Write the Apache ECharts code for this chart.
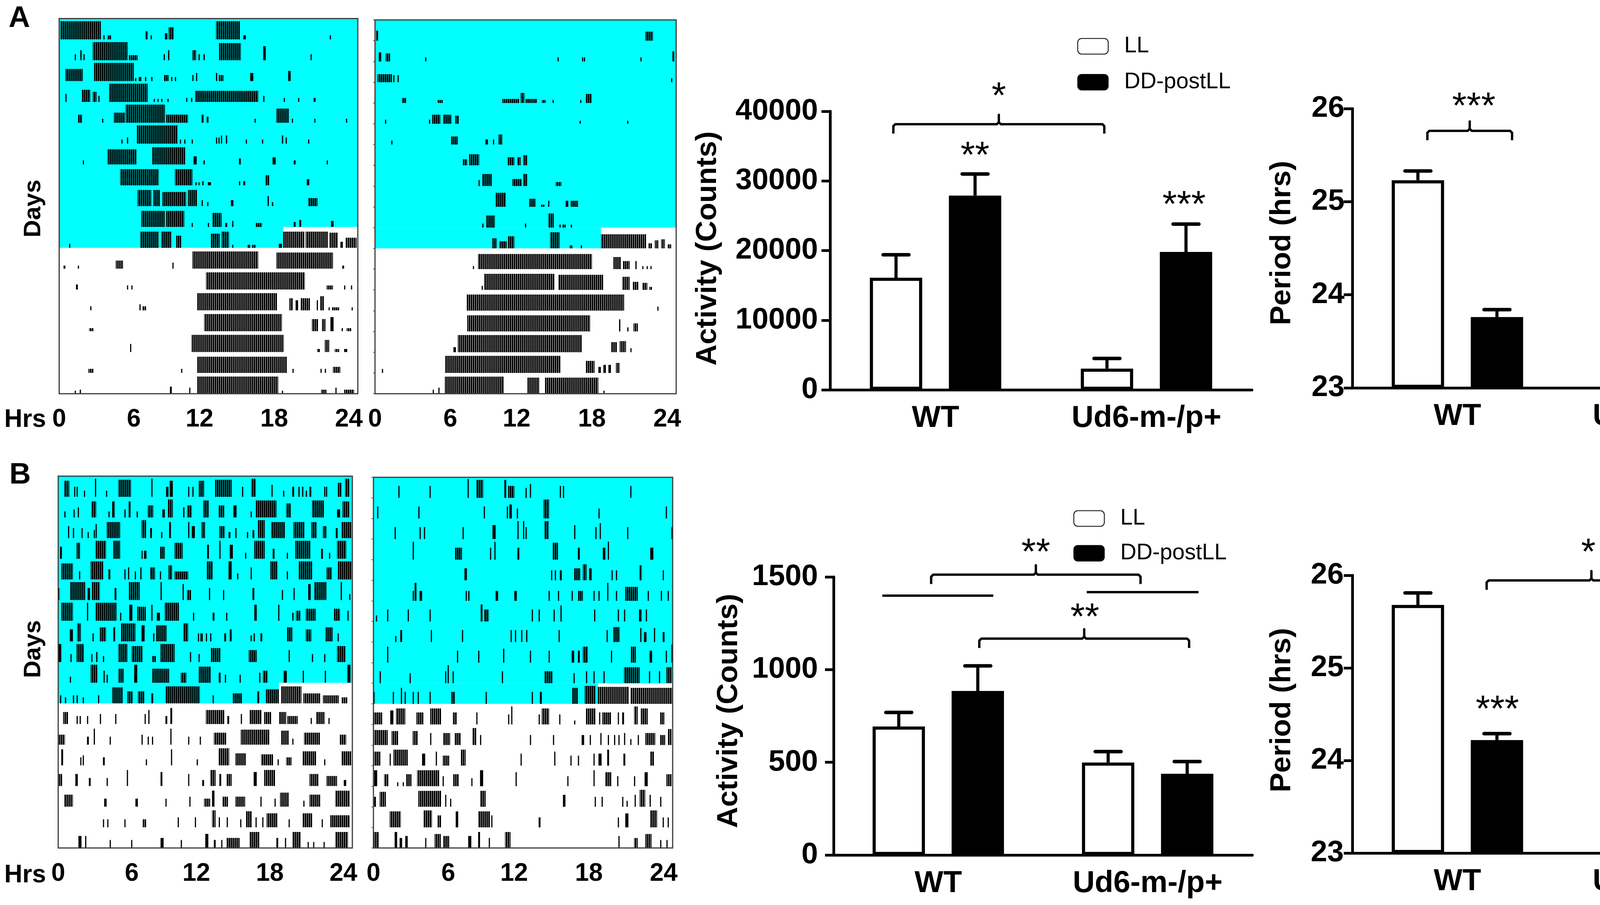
<!DOCTYPE html>
<html><head><meta charset="utf-8">
<script src="https://cdn.jsdelivr.net/npm/echarts@6/dist/echarts.min.js"></script>
<style>html,body{margin:0;padding:0;background:#fff}#c{width:4550px;height:2317px}</style>
</head><body><div id="c"></div>
<script>
// ---------------- DATA ----------------
const groups = ['WT', 'Ud6-m-/p+'];
const conds = ['LL', 'DD-postLL'];
const hourLabels = [0, 6, 12, 18, 24];
// light (LL) part of each actogram: [rowStart, rowEnd, hourStart, hourEnd]
const lightBlocks = [[0, 10, 0, 24], [10, 11, 0, 18]];

// Panel A bars
const actA_LL = [16100, 3050];   const actA_LL_err = [19400, 4500];
const actA_DD = [27900, 19800];  const actA_DD_err = [31000, 23800];
const perA_LL = [25.23, 24.78];  const perA_LL_err = [25.33, 25.22];
const perA_DD = [23.76, 23.92];  const perA_DD_err = [23.84, 24.00];
// Panel B bars
const actB_LL = [693, 499];      const actB_LL_err = [769, 558];
const actB_DD = [885, 438];      const actB_DD_err = [1020, 504];
const perB_LL = [25.68, 25.79];  const perB_LL_err = [25.81, 25.89];
const perB_DD = [24.22, 24.645]; const perB_DD_err = [24.29, 24.72];

// significance annotations (x in group units: WT=0, Ud6=1)
const bracketsActA = [[-0.2, 0.8, 38150]];
const starsActA = [[0.3, 43086, '*'], [0.187, 34558, '**'], [1.178, 27490, '***']];
const bracketsPerA = [[-0.143, 0.26, 25.761], [0.846, 1.249, 25.652]];
const starsPerA = [[0.078, 26.092, '***'], [1.035, 25.954, '**']];
const bracketsActB = [[-0.034, 0.966, 1512], [0.196, 1.198, 1167]];
const linesActB = [[-0.267, 0.263, 1399], [0.709, 1.243, 1418]];
const starsActB = [[0.466, 1666, '**'], [0.70, 1317, '**']];
const bracketsPerB = [[0.139, 1.136, 25.945]];
const starsPerB = [[0.623, 26.316, '*'], [0.19, 24.62, '***'], [1.19, 25.05, '***']];

// actogram activity bouts per day: [startHour, endHour, relativeHeight]
const actoA_WT = [
 [[0.1,3.35,0.9],[3.55,3.65,0.2],[3.9,4.2,0.2],[6.95,7.1,0.4],[7.35,7.4,0.2],[8.5,8.7,0.3],[8.8,9.2,0.6],[12.6,14.55,0.9],[14.8,15.0,0.2],[21.75,21.8,0.2]],
 [[1.25,1.3,0.3],[1.7,1.8,0.5],[1.95,2.0,0.3],[2.7,5.5,0.9],[5.6,6.3,0.25],[8.4,8.5,0.3],[8.75,8.85,0.5],[10.7,11.0,0.5],[11.2,11.3,0.3],[11.6,11.7,0.3],[12.85,14.6,0.85],[16.4,16.6,0.7],[20.2,20.25,0.3]],
 [[0.5,1.9,0.6],[2.8,6.0,0.9],[6.1,6.2,0.15],[6.4,6.6,0.2],[6.9,7.0,0.2],[7.4,7.5,0.2],[8.4,8.8,0.3],[9.0,9.05,0.2],[9.3,9.35,0.2],[10.7,10.75,0.3],[11.0,11.05,0.4],[12.6,12.7,0.4],[12.8,13.2,0.3],[15.35,15.6,0.4],[18.4,18.6,0.5]],
 [[0.5,0.55,0.4],[1.8,2.5,0.6],[2.7,3.0,0.5],[3.15,3.2,0.3],[4.0,7.1,0.9],[7.6,7.65,0.15],[7.9,7.95,0.15],[8.2,8.3,0.15],[8.7,8.8,0.15],[10.2,10.25,0.2],[10.6,10.7,0.2],[10.95,16.0,0.55],[16.4,16.45,0.3],[18.05,18.1,0.2],[19.2,19.25,0.2],[20.45,20.6,0.2]],
 [[1.5,1.85,0.4],[3.45,3.5,0.2],[4.4,5.3,0.5],[5.35,8.5,0.9],[8.6,10.35,0.4],[11.45,11.6,0.4],[11.85,12.0,0.3],[15.7,15.75,0.2],[17.45,18.45,0.7],[18.7,18.75,0.2],[20.5,20.55,0.2],[23.05,23.1,0.2]],
 [[5.0,5.05,0.2],[5.45,5.5,0.3],[6.25,9.5,0.9],[9.7,9.75,0.2],[10.05,10.1,0.2],[10.65,10.7,0.2],[12.6,12.7,0.3],[12.8,12.85,0.3],[13.0,13.05,0.4],[13.4,13.5,0.4],[15.0,15.05,0.2],[16.3,16.35,0.2],[17.9,18.0,0.4],[18.2,18.3,0.3],[20.0,20.1,0.2]],
 [[1.9,1.95,0.2],[3.9,6.2,0.75],[7.45,10.15,0.85],[10.8,11.05,0.4],[11.6,11.7,0.2],[14.45,14.6,0.3],[17.15,17.4,0.35],[18.85,19.0,0.2],[21.5,21.55,0.2]],
 [[4.9,8.0,0.8],[9.3,10.7,0.8],[10.95,11.05,0.15],[11.2,11.25,0.15],[11.5,11.6,0.2],[11.95,12.2,0.15],[14.45,14.5,0.2],[14.8,14.95,0.2],[16.6,16.9,0.5],[19.9,20.1,0.3]],
 [[6.3,7.4,0.8],[7.55,8.1,0.8],[8.3,10.2,0.7],[10.35,11.1,0.8],[11.45,11.5,0.3],[11.9,11.95,0.2],[13.8,14.0,0.3],[16.75,16.85,0.5],[17.1,17.2,0.2],[20.0,20.75,0.4]],
 [[6.6,8.5,0.8],[8.6,10.05,0.8],[10.65,10.7,0.2],[11.95,12.0,0.2],[12.3,13.05,0.7],[13.35,13.5,0.2],[13.9,14.0,0.3],[15.8,16.3,0.2],[18.85,19.0,0.25],[19.3,19.45,0.35],[21.85,22.05,0.3]],
 [[0.8,0.85,0.2],[6.5,8.0,0.8],[8.2,9.0,0.8],[9.4,9.8,0.6],[12.2,12.9,0.7],[13.05,13.65,0.8],[13.9,13.95,0.15],[15.15,15.35,0.15],[15.5,15.8,0.15],[17.65,17.9,0.2],[18.0,19.7,0.8],[19.8,21.6,0.8],[21.7,22.4,0.75],[22.6,22.8,0.3],[23.0,23.9,0.5]],
 [[0.35,0.5,0.15],[1.5,1.55,0.15],[4.55,5.15,0.4],[9.1,9.15,0.3],[10.7,16.0,0.85],[17.45,22.0,0.8],[22.75,22.9,0.15]],
 [[1.35,1.5,0.25],[5.45,5.5,0.2],[5.8,5.85,0.2],[11.8,19.75,0.85],[21.5,22.0,0.2],[22.9,22.95,0.2],[23.45,23.5,0.2]],
 [[2.5,2.55,0.2],[6.45,6.5,0.3],[6.7,7.0,0.2],[11.1,17.5,0.85],[18.5,18.8,0.6],[19.0,19.2,0.5],[19.4,20.15,0.6],[20.7,20.75,0.5],[20.95,21.3,0.7],[21.65,21.7,0.15],[21.9,22.5,0.15],[23.5,23.55,0.15]],
 [[2.4,2.75,0.15],[11.65,17.9,0.85],[20.3,20.8,0.6],[21.1,21.4,0.6],[21.8,22.05,0.7],[22.7,22.8,0.15],[23.1,23.5,0.15]],
 [[5.7,5.75,0.4],[10.65,18.05,0.85],[20.75,20.95,0.15],[21.35,21.7,0.6],[22.15,22.5,0.15],[22.9,23.15,0.15]],
 [[2.35,2.75,0.2],[9.8,9.85,0.2],[11.1,18.3,0.8],[18.75,18.8,0.2],[21.0,21.05,0.2],[21.35,21.4,0.2],[22.0,22.6,0.3]],
 [[1.25,1.3,0.15],[1.65,1.75,0.2],[8.9,9.05,0.35],[10.45,10.5,0.3],[11.1,17.6,0.85],[17.9,17.95,0.15],[21.05,21.5,0.2],[22.2,22.25,0.3],[22.9,23.7,0.2]]
];
const actoA_Ud6 = [
 [[0.1,0.25,0.5],[21.55,22.15,0.45]],
 [[0.3,0.5,0.45],[0.85,1.2,0.4],[4.0,4.05,0.2],[14.55,14.6,0.2],[16.5,16.55,0.2],[16.65,16.7,0.2],[21.15,21.2,0.2],[23.7,23.85,0.5]],
 [[0.2,1.35,0.4],[1.45,1.55,0.35],[1.8,1.85,0.35],[23.6,23.65,0.2]],
 [[2.15,2.5,0.25],[5.0,5.4,0.15],[10.15,11.5,0.2],[11.6,11.9,0.5],[12.0,12.9,0.2],[13.3,13.6,0.15],[14.15,14.2,0.15],[16.35,16.4,0.15],[16.8,17.25,0.45]],
 [[0.8,0.85,0.2],[4.3,4.4,0.2],[4.55,5.2,0.45],[5.45,6.1,0.45],[6.4,6.7,0.4],[16.3,16.4,0.15],[20.1,20.15,0.15]],
 [[1.3,1.35,0.2],[6.05,6.6,0.4],[8.8,9.0,0.25],[9.4,9.45,0.25],[9.85,10.15,0.5]],
 [[7.0,7.35,0.3],[7.5,8.3,0.55],[10.55,11.1,0.4],[11.35,11.6,0.4],[11.8,12.15,0.5]],
 [[8.25,8.3,0.3],[8.55,9.3,0.6],[10.95,11.7,0.35],[11.8,12.15,0.6],[14.4,14.85,0.2]],
 [[9.6,10.4,0.7],[12.3,12.8,0.4],[13.2,13.5,0.1],[13.8,13.85,0.3],[15.2,15.4,0.3],[15.6,16.2,0.3]],
 [[8.55,8.6,0.2],[8.85,9.55,0.6],[11.95,12.0,0.2],[13.8,14.25,0.7],[14.7,14.8,0.15],[14.95,15.2,0.15],[15.6,15.7,0.15]],
 [[9.35,9.7,0.5],[9.9,10.5,0.35],[10.6,11.1,0.6],[13.95,14.7,0.8],[15.5,15.75,0.15],[16.4,16.45,0.15],[18.0,21.6,0.7],[21.8,22.1,0.25],[22.3,22.6,0.4],[22.8,23.1,0.45],[23.3,23.6,0.2]],
 [[7.8,7.85,0.15],[8.2,17.3,0.75],[19.0,19.6,0.6],[19.75,20.3,0.4],[20.75,20.85,0.4],[21.3,21.35,0.15],[21.65,21.7,0.15],[21.95,22.0,0.15]],
 [[8.5,8.55,0.2],[8.7,14.3,0.8],[14.6,18.2,0.75],[19.7,20.3,0.65],[20.55,21.0,0.4],[21.3,21.7,0.35],[21.85,22.1,0.15]],
 [[7.3,19.85,0.8],[22.5,22.55,0.2]],
 [[7.35,17.15,0.8],[19.45,19.55,0.6],[20.1,20.2,0.2],[20.6,20.95,0.4]],
 [[6.25,6.45,0.25],[6.6,16.5,0.85],[18.8,19.3,0.5],[19.5,20.0,0.55],[20.35,20.4,0.2]],
 [[0.55,0.6,0.2],[5.6,14.8,0.85],[16.8,17.5,0.6],[17.8,18.0,0.3],[18.2,18.4,0.4],[18.6,18.8,0.4],[19.2,19.5,0.5]],
 [[4.6,4.65,0.2],[5.05,5.1,0.3],[5.55,10.25,0.85],[12.15,13.1,0.8],[13.55,17.8,0.8],[18.2,18.25,0.15]]
];
const actoB_WT = [
 [[0.5,0.9,0.8],[1.3,1.35,0.5],[1.5,1.55,0.5],[2.1,2.15,0.3],[3.0,3.05,0.9],[3.9,3.95,0.3],[4.9,5.95,0.85],[7.6,7.65,0.9],[8.8,9.0,0.5],[9.1,9.35,0.8],[10.6,10.65,0.5],[10.95,11.0,0.5],[11.45,11.9,0.8],[12.8,14.15,0.85],[15.0,15.05,0.5],[15.75,16.1,0.9],[17.4,17.45,0.6],[18.35,18.4,0.3],[19.1,19.25,0.5],[19.6,19.7,0.5],[19.9,20.0,0.5],[20.2,20.3,0.3],[20.5,20.65,0.5],[21.7,21.75,0.5],[21.85,21.9,0.5],[22.8,23.1,0.7],[23.4,23.75,0.9]],
 [[0.5,0.55,0.3],[1.25,1.3,0.4],[1.6,1.65,0.5],[2.7,3.1,0.8],[4.1,4.15,0.3],[4.4,4.6,0.8],[5.4,5.5,0.4],[5.75,5.9,0.8],[6.4,6.45,0.3],[7.3,7.75,0.6],[8.5,8.7,0.4],[8.95,9.35,0.9],[10.2,10.3,0.5],[10.55,10.9,0.6],[11.85,12.3,0.85],[13.1,13.55,0.6],[14.3,14.55,0.6],[15.7,15.75,0.3],[16.1,17.8,0.85],[18.6,19.0,0.7],[20.7,21.7,0.85],[22.75,23.0,0.4],[23.2,23.75,0.8]],
 [[0.8,0.85,0.6],[1.2,1.25,0.5],[1.9,1.95,0.5],[2.4,2.45,0.3],[2.9,2.95,0.4],[3.05,3.1,0.7],[3.95,5.05,0.8],[6.8,7.2,0.9],[7.5,7.65,0.5],[8.4,8.45,0.3],[9.05,9.2,0.8],[10.6,10.7,0.8],[10.9,11.15,0.6],[11.7,12.0,0.8],[13.15,13.6,0.6],[13.9,14.05,0.3],[14.45,14.55,0.5],[15.4,15.5,0.3],[15.85,16.0,0.4],[16.3,16.85,0.9],[17.4,18.5,0.8],[19.2,20.1,0.8],[20.65,21.1,0.8],[21.6,21.9,0.6],[22.65,22.8,0.5],[23.1,23.9,0.8]],
 [[0.15,0.3,0.6],[1.5,1.8,0.8],[3.05,3.9,0.9],[4.5,5.05,0.9],[6.8,6.85,0.4],[7.0,7.2,0.4],[8.3,8.7,0.6],[9.5,10.15,0.8],[12.15,12.3,0.7],[13.15,13.2,0.9],[14.0,14.25,0.7],[15.25,15.3,0.3],[16.0,16.85,0.9],[17.5,17.65,0.5],[18.65,18.7,0.3],[19.35,20.6,0.9],[21.45,21.6,0.5],[22.1,22.15,0.3],[22.75,23.5,0.9]],
 [[0.25,1.2,0.8],[1.7,1.75,0.4],[2.65,3.7,0.9],[4.1,4.25,0.5],[5.4,5.45,0.5],[5.7,5.75,0.6],[6.25,6.3,0.4],[6.7,6.75,0.6],[7.5,7.9,0.6],[8.3,8.35,0.4],[9.0,9.3,0.7],[9.5,10.6,0.4],[12.1,12.6,0.9],[13.9,14.15,0.9],[14.6,14.65,0.3],[15.7,15.75,0.6],[17.3,17.9,0.9],[18.65,18.7,0.4],[19.6,20.75,0.9],[21.9,22.3,0.6],[22.8,23.95,0.9]],
 [[0.0,0.08,0.6],[0.95,2.2,0.9],[2.4,2.6,0.6],[2.75,3.4,0.9],[4.6,4.75,0.6],[5.75,6.65,0.9],[8.35,8.4,0.9],[10.15,10.25,0.8],[10.5,10.85,0.5],[12.3,12.4,0.6],[13.45,13.5,0.5],[15.85,16.0,0.6],[18.25,18.3,0.5],[19.2,19.25,0.6],[20.4,20.6,0.8],[20.9,21.9,0.9],[23.05,23.15,0.9],[23.75,23.8,0.3]],
 [[0.25,1.2,0.9],[2.35,2.4,0.9],[3.05,4.75,0.9],[5.05,5.1,0.4],[5.8,6.05,0.8],[6.45,7.15,0.7],[7.6,7.65,0.8],[8.05,8.3,0.4],[8.7,9.85,0.9],[11.0,11.05,0.4],[12.6,12.75,0.4],[13.7,13.75,0.4],[16.0,16.2,0.8],[17.95,18.0,0.8],[19.1,19.2,0.4],[19.4,19.75,0.5],[20.2,21.0,0.6],[22.5,23.0,0.6],[23.6,23.65,0.5]],
 [[0.95,1.2,0.6],[1.55,1.85,0.9],[2.8,2.85,0.4],[3.4,3.9,0.7],[4.5,4.65,0.7],[5.1,6.3,0.9],[6.8,7.05,0.8],[7.75,7.8,0.4],[8.0,8.85,0.8],[10.2,10.6,0.9],[11.4,11.5,0.4],[11.6,11.8,0.4],[12.05,12.1,0.4],[12.4,12.45,0.4],[13.55,13.7,0.4],[14.0,14.15,0.6],[15.7,15.75,0.3],[15.95,16.05,0.4],[16.5,16.65,0.4],[18.65,19.1,0.7],[20.2,20.65,0.6],[21.8,22.4,0.7],[22.8,22.85,0.4]],
 [[0.0,0.25,0.9],[1.0,1.05,0.4],[1.5,2.1,0.9],[2.7,2.75,0.4],[3.1,3.2,0.5],[3.65,3.7,0.3],[4.9,5.65,0.9],[6.0,6.9,0.8],[7.65,8.0,0.3],[8.35,9.5,0.9],[10.75,10.8,0.5],[11.45,11.5,0.4],[12.45,13.25,0.7],[15.55,16.2,0.6],[18.8,18.85,0.6],[20.7,20.75,0.4],[21.7,21.75,0.4],[22.75,23.45,0.8]],
 [[0.95,1.0,0.3],[2.65,3.2,0.9],[3.7,3.75,0.6],[3.95,4.0,0.4],[4.9,5.35,0.7],[6.2,6.45,0.9],[7.65,9.05,0.7],[10.0,10.45,0.5],[11.45,12.45,0.8],[13.1,13.25,0.5],[13.6,13.65,0.4],[14.8,14.85,0.4],[16.4,16.45,0.5],[16.7,17.1,0.6],[18.4,18.65,0.6],[19.95,20.0,0.6],[21.75,21.8,0.6],[23.6,23.85,0.9]],
 [[0.15,0.2,0.4],[0.55,0.6,0.3],[1.2,1.25,0.4],[1.5,1.55,0.4],[2.0,2.05,0.3],[3.25,3.3,0.4],[4.4,5.25,0.8],[5.65,6.1,0.6],[6.5,7.05,0.6],[7.6,7.75,0.5],[8.75,11.55,0.85],[12.6,12.65,0.4],[14.25,15.0,0.5],[16.25,16.4,0.6],[16.95,18.0,0.7],[18.2,19.85,0.85],[20.0,21.4,0.5],[21.6,22.9,0.4],[23.1,23.6,0.3]],
 [[0.4,0.8,0.6],[1.5,1.55,0.4],[1.75,1.8,0.4],[2.35,2.4,0.4],[3.4,3.45,0.5],[4.65,4.7,0.5],[7.05,7.1,0.5],[7.35,7.45,0.7],[8.75,8.9,0.4],[9.15,9.3,0.8],[12.05,13.55,0.7],[13.8,13.95,0.4],[14.9,14.95,0.5],[15.6,16.6,0.7],[16.8,17.4,0.6],[18.0,18.6,0.6],[18.7,19.55,0.4],[20.6,20.65,0.3],[21.05,21.75,0.6],[22.05,22.1,0.3]],
 [[0.05,0.55,0.5],[2.35,2.5,0.4],[2.9,2.95,0.8],[4.2,4.25,0.4],[6.8,6.85,0.5],[7.3,7.35,0.4],[7.65,7.7,0.4],[9.15,9.2,0.8],[10.6,10.65,0.4],[11.55,11.6,0.4],[12.7,13.7,0.6],[14.9,17.25,0.75],[18.2,18.8,0.7],[19.1,19.15,0.3],[20.05,21.35,0.6],[22.95,23.5,0.5]],
 [[0.25,0.4,0.8],[1.8,1.85,0.4],[2.0,2.05,0.5],[3.65,3.8,0.4],[7.15,7.2,0.3],[9.2,9.25,0.8],[11.3,11.4,0.3],[13.1,13.95,0.85],[14.45,15.3,0.6],[16.55,17.55,0.55],[17.9,17.95,0.3],[18.6,19.05,0.4],[19.95,21.05,0.7],[21.7,21.75,0.3],[23.1,23.9,0.7]],
 [[0.05,0.35,0.6],[1.4,1.6,0.6],[2.5,2.65,0.4],[3.95,4.0,0.4],[5.6,5.65,0.8],[8.35,8.5,0.7],[10.6,10.65,0.6],[11.75,11.9,0.3],[12.4,12.85,0.8],[13.15,13.3,0.6],[13.75,14.15,0.6],[15.95,16.2,0.7],[16.8,17.7,0.8],[20.5,21.25,0.6],[21.9,22.75,0.5],[23.3,23.5,0.3]],
 [[0.5,1.2,0.6],[3.75,3.95,0.4],[6.3,6.5,0.4],[8.75,8.8,0.4],[10.7,10.75,0.5],[11.9,12.4,0.4],[12.55,12.75,0.8],[13.4,13.85,0.5],[14.45,15.25,0.5],[16.5,16.55,0.5],[17.65,17.7,0.4],[18.1,18.8,0.7],[20.0,20.05,0.3],[20.5,21.4,0.6],[22.6,23.8,0.8]],
 [[3.65,3.7,0.4],[4.0,4.05,0.4],[5.4,5.45,0.4],[6.9,7.2,0.4],[9.75,9.8,0.5],[11.15,11.2,0.5],[12.55,12.85,0.85],[13.1,13.15,0.5],[13.75,13.8,0.5],[14.85,14.9,0.4],[15.3,15.8,0.8],[16.1,16.15,0.5],[16.65,16.7,0.5],[17.0,17.9,0.7],[18.8,18.85,0.4],[19.95,20.75,0.7],[21.5,21.55,0.4],[22.2,23.8,0.6]],
 [[1.65,1.9,0.6],[2.2,2.25,0.6],[4.2,4.25,0.4],[5.95,6.0,0.4],[8.35,8.6,0.5],[10.0,10.05,0.4],[12.0,12.25,0.7],[12.7,12.85,0.4],[13.3,13.35,0.4],[13.75,14.8,0.5],[15.6,16.4,0.8],[17.8,17.95,0.5],[18.5,18.55,0.5],[19.1,19.8,0.8],[20.35,20.4,0.3],[20.8,20.85,0.3],[21.65,21.7,0.3],[22.6,23.65,0.8]]
];
const actoB_Ud6 = [
 [[2.0,2.05,0.6],[4.5,4.55,0.6],[7.55,7.6,0.95],[8.25,8.8,0.9],[10.5,10.65,0.9],[10.8,11.3,0.6],[12.2,12.25,0.5],[12.55,12.6,0.7],[14.95,15.0,0.6],[15.2,15.25,0.6],[20.6,20.65,0.6]],
 [[0.3,0.35,0.6],[3.6,3.65,0.6],[8.85,8.9,0.6],[10.7,10.75,0.6],[10.9,11.1,0.7],[11.5,11.55,0.5],[13.65,14.1,0.95],[18.05,18.1,0.5],[23.45,23.5,0.6]],
 [[1.7,1.75,0.6],[3.7,3.75,0.6],[4.05,4.1,0.6],[7.15,7.2,0.6],[9.55,9.8,0.7],[11.55,11.6,0.9],[12.0,12.05,0.9],[12.2,12.25,0.6],[13.7,14.05,0.9],[16.1,16.15,0.7],[17.8,17.85,0.6],[18.15,18.2,0.8],[20.35,20.4,0.6],[23.9,23.95,0.6]],
 [[3.15,3.2,0.9],[6.55,7.1,0.6],[9.35,9.4,0.6],[9.7,9.75,0.9],[11.55,11.7,0.6],[14.35,14.8,0.85],[16.4,16.55,0.6],[18.4,18.6,0.6],[18.8,18.85,0.9],[22.2,22.45,0.6]],
 [[7.3,7.5,0.6],[14.25,14.3,0.5],[14.55,14.6,0.5],[14.95,15.1,0.5],[16.1,16.6,0.6],[16.8,17.1,0.8],[17.3,17.5,0.6],[19.1,19.15,0.5],[19.45,19.5,0.5],[21.35,21.5,0.75],[23.2,23.25,0.5]],
 [[3.15,3.2,0.5],[3.3,3.45,0.9],[3.7,3.9,0.5],[7.4,7.45,0.5],[7.6,7.7,0.5],[9.8,10.0,0.5],[11.3,11.5,0.5],[14.05,14.1,0.5],[14.8,14.85,0.5],[15.9,15.95,0.5],[16.4,16.8,0.5],[17.65,17.7,0.5],[18.05,18.1,0.5],[18.75,18.8,0.9],[19.45,19.5,0.5],[20.2,21.2,0.7],[22.0,22.05,0.5],[23.05,23.1,0.5],[23.6,23.65,0.5]],
 [[0.2,0.25,0.3],[1.1,1.15,0.6],[2.75,2.8,0.6],[4.5,4.55,0.6],[8.6,8.75,0.85],[8.9,9.25,0.6],[12.7,12.75,0.6],[13.25,13.3,0.6],[14.45,14.5,0.6],[15.0,15.05,0.8],[17.7,17.75,0.6],[19.6,19.65,0.6],[20.1,20.15,0.6],[21.3,21.5,0.6],[21.85,21.9,0.6]],
 [[1.75,1.8,0.3],[2.15,2.3,0.6],[4.6,4.65,0.6],[7.1,7.15,0.6],[11.0,11.05,0.6],[11.35,11.4,0.6],[11.85,11.9,0.6],[12.25,12.3,0.6],[14.85,14.9,0.6],[18.7,18.75,0.6],[19.25,19.75,0.75],[21.4,21.45,0.7],[21.7,21.9,0.5],[22.5,22.55,0.7],[23.2,23.35,0.5]],
 [[1.1,1.15,0.8],[6.7,6.75,0.6],[8.4,8.45,0.6],[10.4,10.5,0.7],[12.55,12.6,0.6],[14.05,14.1,0.6],[15.9,16.1,0.6],[16.4,16.55,0.6],[16.8,17.2,0.8],[19.05,19.1,0.6],[20.65,21.05,0.8],[22.15,22.35,0.6],[23.45,23.5,0.6],[23.9,23.95,0.9]],
 [[0.5,0.55,0.6],[2.9,2.95,0.5],[5.75,5.8,0.6],[5.95,6.0,0.9],[6.35,6.4,0.6],[10.3,10.35,0.6],[13.7,14.35,0.6],[16.05,16.1,0.5],[17.05,17.1,0.6],[17.65,17.7,0.6],[18.45,18.5,0.6],[20.1,21.35,0.8],[22.1,22.15,0.6],[22.9,22.95,0.6],[23.5,23.9,0.8]],
 [[0.0,0.05,0.6],[1.55,1.6,0.6],[2.2,2.25,0.8],[2.5,2.55,0.6],[3.15,3.2,0.6],[3.55,3.6,0.6],[4.5,4.55,0.6],[6.25,6.55,0.6],[9.0,9.05,0.6],[12.7,12.75,0.6],[13.35,13.5,0.6],[15.95,16.4,0.8],[16.95,17.8,0.9],[18.0,20.5,0.85],[20.6,24.0,0.8]],
 [[0.0,0.7,0.6],[1.35,1.6,0.7],[1.8,2.55,0.8],[3.45,4.0,0.6],[4.55,5.45,0.8],[6.35,6.7,0.6],[8.25,8.3,0.6],[10.8,10.85,0.5],[11.05,11.1,0.9],[13.25,13.3,0.5],[13.5,14.1,0.8],[14.9,14.95,0.5],[16.1,16.15,0.2],[17.05,17.8,0.8],[18.1,18.15,0.6],[18.35,19.05,0.6],[19.6,19.65,0.6],[19.95,20.1,0.6],[20.9,21.2,0.9],[21.45,22.0,0.8],[23.0,23.35,0.6]],
 [[0.05,1.15,0.75],[1.45,2.0,0.7],[3.15,3.55,0.7],[4.55,4.6,0.6],[5.6,6.15,0.6],[6.5,7.0,0.6],[7.95,8.25,0.85],[8.55,8.6,0.5],[12.55,12.6,0.5],[14.4,14.45,0.5],[16.7,16.9,0.5],[17.35,17.4,0.5],[18.2,18.25,0.6],[18.8,18.85,0.5],[19.3,19.35,0.5],[19.65,19.7,0.5],[20.1,20.15,0.6],[20.6,20.65,0.3],[21.2,21.25,0.5],[21.8,22.6,0.6],[23.0,23.4,0.5],[23.6,23.9,0.8]],
 [[0.05,0.55,0.7],[1.3,1.35,0.6],[1.6,2.75,0.8],[3.9,4.15,0.6],[5.0,5.05,0.7],[5.55,6.1,0.5],[7.0,7.4,0.8],[11.8,11.85,0.6],[14.5,14.55,0.7],[15.8,15.85,0.5],[16.4,16.45,0.5],[17.65,17.7,0.6],[18.05,18.3,0.6],[18.75,18.9,0.8],[20.05,20.2,0.6],[22.2,22.5,0.7]],
 [[0.05,0.3,0.8],[0.85,1.2,0.6],[1.9,1.95,0.2],[2.35,2.4,0.2],[2.6,3.05,0.6],[3.5,5.3,0.8],[5.55,5.6,0.5],[6.4,6.85,0.6],[7.85,7.9,0.4],[8.55,8.8,0.8],[11.4,11.45,0.7],[15.55,15.6,0.5],[17.65,17.7,0.8],[18.6,19.1,0.7],[19.55,19.6,0.5],[20.9,20.95,0.5],[21.75,22.0,0.7],[23.5,23.9,0.6]],
 [[0.05,0.2,0.5],[0.5,1.0,0.75],[3.6,5.45,0.8],[5.75,5.8,0.6],[6.15,6.2,0.4],[8.55,9.0,0.8],[15.2,15.4,0.6],[17.75,17.8,0.5],[18.3,18.35,0.5],[19.95,20.0,0.5],[20.3,20.35,0.3],[20.95,21.0,0.6],[21.35,21.8,0.85],[22.15,22.2,0.6],[23.0,23.05,0.5]],
 [[1.3,2.2,0.8],[4.0,4.7,0.85],[5.15,5.45,0.6],[6.6,6.8,0.8],[8.4,9.35,0.8],[9.45,9.5,0.6],[13.25,13.4,0.5],[19.6,19.65,0.5],[20.2,20.45,0.7],[22.2,22.75,0.85],[23.2,23.25,0.5],[23.6,23.65,0.5]],
 [[0.0,0.45,0.8],[1.7,1.9,0.8],[2.1,2.3,0.5],[2.55,2.75,0.6],[4.15,4.2,0.5],[4.9,5.4,0.7],[5.6,6.1,0.6],[7.6,7.85,0.6],[8.4,8.55,0.8],[9.25,9.3,0.5],[10.55,11.0,0.8],[19.65,19.7,0.6],[20.9,21.2,0.5],[21.8,22.3,0.7],[23.0,23.05,0.4],[23.5,23.55,0.4]]
];

// ---------------- LAYOUT / STYLE ----------------
const F = "'Liberation Sans', Arial, Helvetica, sans-serif";
const CYAN = '#00FFFF';
const BAR_W = 134, BAR_GAP = 0.51;

// vertical-stripe fill used for dense activity bouts (histogram look)
const stripe = document.createElement('canvas');
stripe.width = 5; stripe.height = 4;
(function () { const g = stripe.getContext('2d'); g.fillStyle = '#000'; g.fillRect(0, 0, 4, 4); })();
const STRIPE_FILL = {image: stripe, repeat: 'repeat'};

const actoLayouts = [
  {box: {left: 151.5, top: 47.5, width: 764.5, height: 960.5}, rows: actoA_WT, leftTicks: false},
  {box: {left: 960, top: 51, width: 771, height: 957}, rows: actoA_Ud6, leftTicks: true},
  {box: {left: 149, top: 1219, width: 753, height: 952}, rows: actoB_WT, leftTicks: false},
  {box: {left: 956, top: 1222, width: 766, height: 949}, rows: actoB_Ud6, leftTicks: true}
];
const barLayouts = [
  {box: {left: 2125, top: 285, width: 1080, height: 713}, y: {min: 0, max: 40000, interval: 10000}, margin: 31,
   LL: actA_LL, LLe: actA_LL_err, DD: actA_DD, DDe: actA_DD_err, brackets: bracketsActA, lines: [], stars: starsActA,
   legend: {left: 2758, top: 90, gap: 35}},
  {box: {left: 3462, top: 278, width: 1076, height: 715}, y: {min: 23, max: 26, interval: 1}, margin: 20,
   LL: perA_LL, LLe: perA_LL_err, DD: perA_DD, DDe: perA_DD_err, brackets: bracketsPerA, lines: [], stars: starsPerA,
   legend: {left: 4105, top: 90, gap: 35}, note: [null, '5/8 AR']},
  {box: {left: 2134, top: 1477, width: 1072, height: 712}, y: {min: 0, max: 1500, interval: 500}, margin: 40,
   LL: actB_LL, LLe: actB_LL_err, DD: actB_DD, DDe: actB_DD_err, brackets: bracketsActB, lines: linesActB, stars: starsActB,
   legend: {left: 2748, top: 1299, gap: 32}},
  {box: {left: 3462, top: 1473, width: 1076, height: 711}, y: {min: 23, max: 26, interval: 1}, margin: 22,
   LL: perB_LL, LLe: perB_LL_err, DD: perB_DD, DDe: perB_DD_err, brackets: bracketsPerB, lines: [], stars: starsPerB,
   legend: {left: 4101, top: 1305, gap: 36}}
];

const grids = [], xAxes = [], yAxes = [], series = [], legends = [], hiddenX = [];

const hrsLabelStyle = {fontSize: 64, fontWeight: 'bold', fontFamily: F, color: '#000'};
actoLayouts.forEach((a, i) => {
  grids.push(Object.assign({}, a.box));
  xAxes.push({
    type: 'value', gridIndex: i, min: 0, max: 24, interval: 2,
    axisLine: {show: false}, splitLine: {show: false},
    axisTick: {show: true, length: 8, lineStyle: {color: '#555', width: 2}},
    axisLabel: {
      interval: 0, margin: 34, showMinLabel: true, showMaxLabel: true,
      formatter: v => hourLabels.indexOf(v) < 0 ? '' : (v >= 10 ? '{d|' + v + '}' : '{s|' + v + '}'),
      rich: {d: Object.assign({padding: [0, 46, 0, 0]}, hrsLabelStyle), s: Object.assign({}, hrsLabelStyle)}
    }
  });
  yAxes.push({
    type: 'value', gridIndex: i, min: 0, max: 18, interval: 1, inverse: true,
    axisLine: {show: false}, splitLine: {show: false}, axisLabel: {show: false},
    axisTick: {show: a.leftTicks, length: 5, lineStyle: {color: '#666', width: 2}}
  });
  series.push({
    type: 'custom', xAxisIndex: i, yAxisIndex: i, silent: true, z: 1, data: lightBlocks,
    renderItem: (p, api) => {
      const s = api.coord([api.value(2), api.value(0)]);
      const e = api.coord([api.value(3), api.value(1)]);
      return {type: 'rect', shape: {x: s[0], y: s[1], width: e[0] - s[0], height: e[1] - s[1]}, style: {fill: CYAN}};
    }
  });
  const bouts = [];
  a.rows.forEach((r, k) => r.forEach(b => bouts.push([k, b[0], b[1], b[2]])));
  series.push({
    type: 'custom', xAxisIndex: i, yAxisIndex: i, silent: true, z: 2, data: bouts,
    renderItem: (p, api) => {
      const row = api.value(0);
      const s = api.coord([api.value(1), row + 1]);
      const e = api.coord([api.value(2), row + 1]);
      const rowH = api.size([0, 1])[1];
      const h = rowH * 0.97 * api.value(3);
      const w = Math.max(e[0] - s[0], 3);
      return {type: 'rect', shape: {x: s[0], y: s[1] - h, width: w, height: h},
        style: {fill: w > 8 ? STRIPE_FILL : '#000'}};
    }
  });
  series.push({
    type: 'custom', xAxisIndex: i, yAxisIndex: i, silent: true, z: 3, data: [[0]],
    renderItem: (p, api) => {
      const c = p.coordSys;
      return {type: 'rect', shape: {x: c.x, y: c.y, width: c.width, height: c.height}, style: {fill: 'none', stroke: '#3c3c3c', lineWidth: 3}};
    }
  });
});

barLayouts.forEach((b, j) => {
  const gi = 4 + j;
  grids.push(Object.assign({}, b.box));
  xAxes.push({
    type: 'category', gridIndex: gi, data: groups,
    axisLine: {onZero: false, lineStyle: {color: '#000', width: 7}},
    axisTick: {alignWithLabel: true, length: 22, lineStyle: {color: '#000', width: 7}},
    axisLabel: {margin: 34, fontSize: 78, fontWeight: 'bold', fontFamily: F, color: '#000'}
  });
  hiddenX.push({type: 'value', gridIndex: gi, min: -0.5, max: 1.5, show: false});
  yAxes.push({
    type: 'value', gridIndex: gi, min: b.y.min, max: b.y.max, interval: b.y.interval, startValue: b.y.min,
    axisLine: {show: true, onZero: false, lineStyle: {color: '#000', width: 7}},
    axisTick: {show: true, length: 22, lineStyle: {color: '#000', width: 7}},
    splitLine: {show: false},
    axisLabel: {margin: b.margin, fontSize: 76, fontWeight: 'bold', fontFamily: F, color: '#000', formatter: v => String(v)}
  });
  const llData = b.LL.map((v, k) => (b.note && b.note[k]) ? {
    value: v, label: {show: true, position: 'inside', rotate: 90, formatter: b.note[k], fontSize: 70, fontWeight: 'bold', fontFamily: F, color: '#000'}
  } : v);
  series.push({type: 'bar', name: conds[0], xAxisIndex: gi, yAxisIndex: gi, data: llData, barWidth: BAR_W, barGap: (BAR_GAP * 100) + '%',
    itemStyle: {color: '#fff', borderColor: '#000', borderWidth: 8}, z: 2});
  series.push({type: 'bar', name: conds[1], xAxisIndex: gi, yAxisIndex: gi, data: b.DD, barWidth: BAR_W, barGap: (BAR_GAP * 100) + '%',
    itemStyle: {color: '#000', borderColor: '#000', borderWidth: 8}, z: 2});
  const errs = [];
  b.LL.forEach((v, k) => errs.push([k, 0, v, b.LLe[k]]));
  b.DD.forEach((v, k) => errs.push([k, 1, v, b.DDe[k]]));
  series.push({
    type: 'custom', xAxisIndex: gi, yAxisIndex: gi, silent: true, z: 3, data: errs,
    renderItem: (p, api) => {
      const off = (api.value(1) === 0 ? -1 : 1) * BAR_W * (1 + BAR_GAP) / 2;
      const m = api.coord([api.value(0), api.value(2)]);
      const t = api.coord([api.value(0), api.value(3)]);
      const x = m[0] + off;
      return {type: 'group', children: [
        {type: 'line', shape: {x1: x, y1: m[1], x2: x, y2: t[1]}, style: {stroke: '#000', lineWidth: 8}},
        {type: 'line', shape: {x1: x - 33, y1: t[1], x2: x + 33, y2: t[1]}, style: {stroke: '#000', lineWidth: 9, lineCap: 'round'}}
      ]};
    }
  });
  const hx = 8 + j;
  series.push({
    type: 'custom', xAxisIndex: hx, yAxisIndex: gi, silent: true, z: 3, data: b.brackets,
    renderItem: (p, api) => {
      const a1 = api.coord([api.value(0), api.value(2)]);
      const a2 = api.coord([api.value(1), api.value(2)]);
      const y = a1[1], xm = (a1[0] + a2[0]) / 2, d = 24;
      return {type: 'polyline', shape: {points: [[a1[0], y + d], [a1[0], y + 5], [a1[0] + 5, y], [xm - 5, y], [xm, y - 5], [xm, y - d], [xm, y - 5], [xm + 5, y], [a2[0] - 5, y], [a2[0], y + 5], [a2[0], y + d]]},
        style: {stroke: '#000', lineWidth: 6, fill: 'none', lineJoin: 'round'}};
    }
  });
  if (b.lines.length) series.push({
    type: 'custom', xAxisIndex: hx, yAxisIndex: gi, silent: true, z: 3, data: b.lines,
    renderItem: (p, api) => {
      const a1 = api.coord([api.value(0), api.value(2)]);
      const a2 = api.coord([api.value(1), api.value(2)]);
      return {type: 'line', shape: {x1: a1[0], y1: a1[1], x2: a2[0], y2: a1[1]}, style: {stroke: '#000', lineWidth: 6}};
    }
  });
  const starTexts = b.stars.map(s => s[2]);
  series.push({
    type: 'custom', xAxisIndex: hx, yAxisIndex: gi, silent: true, z: 4, data: b.stars.map(s => [s[0], s[1]]),
    renderItem: (p, api) => {
      const c = api.coord([api.value(0), api.value(1)]);
      return {type: 'text', x: c[0], y: c[1] + 20, style: {text: starTexts[p.dataIndex], fontSize: 95, fontFamily: F, fill: '#000', align: 'center', verticalAlign: 'middle'}};
    }
  });
  legends.push({
    data: conds, left: b.legend.left, top: b.legend.top, orient: 'vertical', padding: 0,
    itemWidth: 78, itemHeight: 40, itemGap: b.legend.gap, selectedMode: false,
    textStyle: {fontSize: 57, fontFamily: F, color: '#000', lineHeight: 46, padding: [0, 0, 0, 36]}
  });
});
hiddenX.forEach(h => xAxes.push(h));

const T = (text, x, y, size, rot, align) => ({
  type: 'text', x: x, y: y, rotation: rot || 0, silent: true,
  style: {text: text, fontSize: size, fontWeight: 'bold', fontFamily: F, fill: '#000', align: align || 'center', verticalAlign: 'middle'}
});
const texts = [
  T('A', 22, 48, 76, 0, 'left'), T('B', 24, 1217, 76, 0, 'left'),
  T('Days', 86, 534, 62, Math.PI / 2), T('Days', 86, 1662, 62, Math.PI / 2),
  T('Hrs', 11, 1075, 64, 0, 'left'), T('Hrs', 11, 2241, 64, 0, 'left'),
  T('Activity (Counts)', 1812, 636, 75, Math.PI / 2), T('Period (hrs)', 3282, 622, 75, Math.PI / 2),
  T('Activity (Counts)', 1866, 1820, 75, Math.PI / 2), T('Period (hrs)', 3282, 1818, 75, Math.PI / 2)
];

const chart = echarts.init(document.getElementById('c'), null, {renderer: 'canvas'});
chart.setOption({
  backgroundColor: '#fff', animation: false,
  grid: grids, xAxis: xAxes, yAxis: yAxes, series: series, legend: legends,
  graphic: texts
});
</script></body></html>
